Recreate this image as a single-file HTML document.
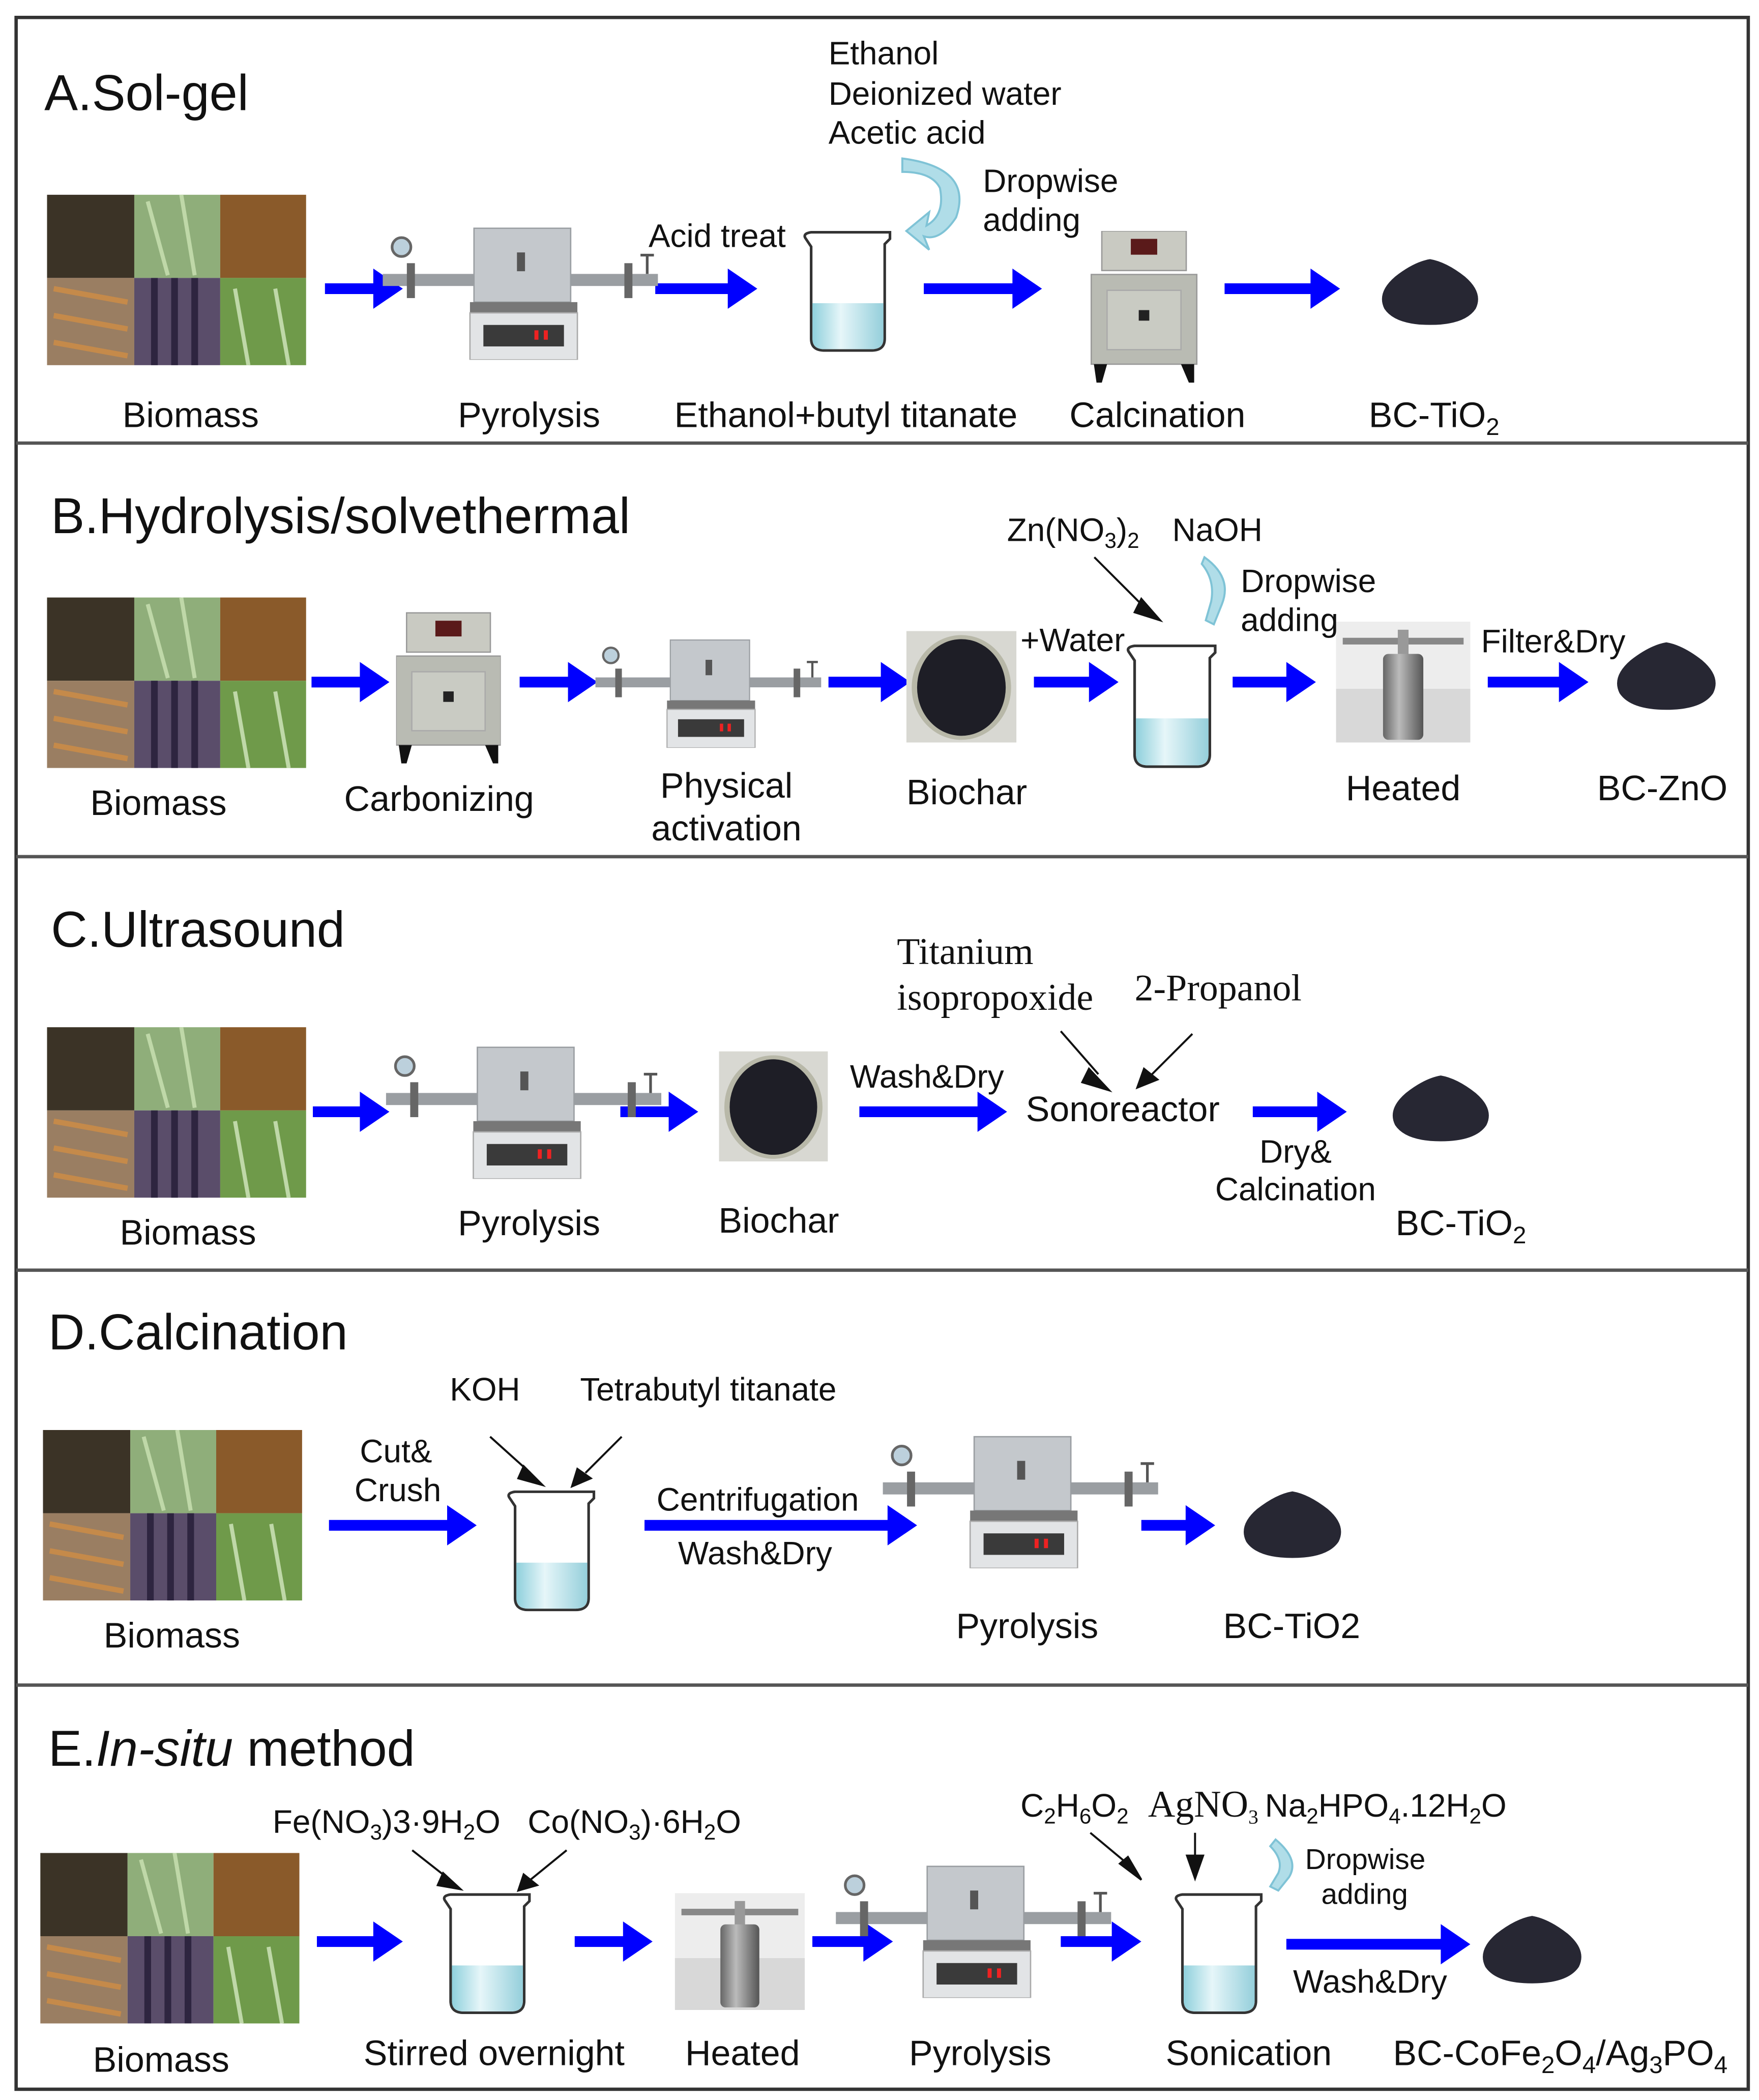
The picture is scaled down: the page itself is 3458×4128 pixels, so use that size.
<!DOCTYPE html>
<html><head><meta charset="utf-8"><style>
html,body{margin:0;padding:0;background:#fff;}
svg{display:block;}
text{font-family:"Liberation Sans",sans-serif;fill:#111;}
.t{font-size:37.5px;}
.l{font-size:26.5px;}
.s{font-size:24.2px;}
.sf{font-family:"Liberation Serif",serif;font-size:28px;}
</style></head><body>
<svg width="3458" height="4128" viewBox="0 0 1310 1564" preserveAspectRatio="none" xmlns="http://www.w3.org/2000/svg">
<defs>
<linearGradient id="liq" x1="0" x2="1"><stop offset="0" stop-color="#8fd0dc"/><stop offset="0.4" stop-color="#e6f6f9"/><stop offset="1" stop-color="#95cfdb"/></linearGradient>
<linearGradient id="met" x1="0" x2="1"><stop offset="0" stop-color="#666"/><stop offset="0.4" stop-color="#bbb"/><stop offset="1" stop-color="#555"/></linearGradient>
<symbol id="bio" viewBox="0 0 193 127">
<rect x="0" y="0" width="65" height="62" fill="#3b3326"/>
<rect x="65" y="0" width="64" height="62" fill="#8fae7a"/>
<rect x="129" y="0" width="64" height="62" fill="#8a5a2a"/>
<rect x="0" y="62" width="65" height="65" fill="#9a7e62"/>
<rect x="65" y="62" width="64" height="65" fill="#5a4d6a"/>
<rect x="129" y="62" width="64" height="65" fill="#6f9a4a"/>
<path d="M5 70 L60 80 M5 90 L60 100 M5 110 L60 120" stroke="#c58a4a" stroke-width="4"/>
<path d="M80 62 V127 M95 62 V127 M110 62 V127" stroke="#2e2540" stroke-width="5"/>
<path d="M75 5 L90 60 M100 0 L110 60 M140 70 L150 127 M170 70 L180 127" stroke="#bfd8a8" stroke-width="3"/>
</symbol>
<symbol id="furn" viewBox="0 0 205 100">
<rect x="0" y="36" width="205" height="9" fill="#9a9ea2"/>
<rect x="18" y="28" width="6" height="26" fill="#666"/>
<rect x="180" y="28" width="6" height="26" fill="#666"/>
<circle cx="14" cy="16" r="7" fill="#bcd0dc" stroke="#666" stroke-width="2"/>
<path d="M192 22 h10 M197 22 v14" stroke="#555" stroke-width="2"/>
<rect x="68" y="2" width="72" height="55" fill="#c4c8cc" stroke="#9a9ea2"/>
<rect x="100" y="20" width="6" height="14" fill="#555"/>
<rect x="65" y="57" width="80" height="8" fill="#777"/>
<rect x="65" y="65" width="80" height="35" fill="#e2e4e6" stroke="#aaa"/>
<rect x="75" y="74" width="60" height="16" fill="#3a3a3a"/>
<rect x="113" y="78" width="3" height="7" fill="#e22"/><rect x="120" y="78" width="3" height="7" fill="#e22"/>
</symbol>
<symbol id="muf" viewBox="0 0 80 115">
<rect x="8" y="0" width="64" height="30" fill="#c9cac2" stroke="#999"/>
<rect x="30" y="6" width="20" height="12" fill="#5a1a1a"/>
<rect x="0" y="33" width="80" height="68" fill="#b9bbb3" stroke="#999"/>
<rect x="12" y="45" width="56" height="45" fill="#c9cbc3" stroke="#aaa"/>
<rect x="36" y="60" width="8" height="8" fill="#222"/>
<path d="M2 101 h10 l-4 14 h-4z M68 101 h10 v14 h-4z" fill="#111"/>
</symbol>
<symbol id="bk" viewBox="0 0 75 92">
<path d="M6 6 Q3 2 10 1 H70 V6 L66 10 V82 Q66 91 56 91 H20 Q10 91 10 82 V12 Z" fill="#fff" stroke="#333" stroke-width="2"/>
<path d="M11 55 H65 V82 Q65 90 56 90 H20 Q11 90 11 82 Z" fill="url(#liq)"/>
</symbol>
<symbol id="pow" viewBox="0 0 80 50">
<path d="M40 1 Q52 3 66 14 Q80 26 74 38 Q66 50 40 50 Q14 50 6 38 Q0 26 14 14 Q28 3 40 1Z" fill="#272733"/>
</symbol>
<symbol id="bch" viewBox="0 0 82 83">
<rect width="82" height="83" fill="#d8d8d2"/>
<ellipse cx="41" cy="42" rx="37" ry="39" fill="#b8b8a8"/>
<ellipse cx="41" cy="42" rx="33" ry="36" fill="#1e1e26"/>
</symbol>
<symbol id="auto" viewBox="0 0 100 90">
<rect width="100" height="90" fill="#ededed"/>
<rect y="50" width="100" height="40" fill="#d8d8d8"/>
<rect x="5" y="12" width="90" height="5" fill="#888"/>
<rect x="46" y="6" width="8" height="20" fill="#999"/>
<rect x="35" y="24" width="30" height="64" rx="4" fill="url(#met)"/>
</symbol>
</defs>

<rect x="12" y="13" width="1290" height="1543" fill="none" stroke="#333" stroke-width="2.5"/>
<g stroke="#555" stroke-width="2.5"><line x1="12" y1="330" x2="1302" y2="330"/><line x1="12" y1="638" x2="1302" y2="638"/><line x1="12" y1="946" x2="1302" y2="946"/><line x1="12" y1="1255" x2="1302" y2="1255"/></g>

<g fill="#0000ff" stroke="none">
<rect x="242" y="211" width="40" height="8"/><polygon points="278,200 300,215 278,230"/>
<rect x="488" y="211" width="58" height="8"/><polygon points="542,200 564,215 542,230"/>
<rect x="688" y="211" width="70" height="8"/><polygon points="754,200 776,215 754,230"/>
<rect x="912" y="211" width="68" height="8"/><polygon points="976,200 998,215 976,230"/>
<rect x="232" y="504" width="40" height="8"/><polygon points="268,493 290,508 268,523"/>
<rect x="387" y="504" width="40" height="8"/><polygon points="423,493 445,508 423,523"/>
<rect x="617" y="504" width="43" height="8"/><polygon points="656,493 678,508 656,523"/>
<rect x="770" y="504" width="45" height="8"/><polygon points="811,493 833,508 811,523"/>
<rect x="918" y="504" width="44" height="8"/><polygon points="958,493 980,508 958,523"/>
<rect x="1108" y="504" width="57" height="8"/><polygon points="1161,493 1183,508 1161,523"/>
<rect x="233" y="824" width="39" height="8"/><polygon points="268,813 290,828 268,843"/>
<rect x="462" y="824" width="40" height="8"/><polygon points="498,813 520,828 498,843"/>
<rect x="640" y="824" width="92" height="8"/><polygon points="728,813 750,828 728,843"/>
<rect x="933" y="824" width="52" height="8"/><polygon points="981,813 1003,828 981,843"/>
<rect x="245" y="1132" width="92" height="8"/><polygon points="333,1121 355,1136 333,1151"/>
<rect x="480" y="1132" width="185" height="8"/><polygon points="661,1121 683,1136 661,1151"/>
<rect x="850" y="1132" width="37" height="8"/><polygon points="883,1121 905,1136 883,1151"/>
<rect x="236" y="1442" width="46" height="8"/><polygon points="278,1431 300,1446 278,1461"/>
<rect x="428" y="1442" width="40" height="8"/><polygon points="464,1431 486,1446 464,1461"/>
<rect x="605" y="1442" width="42" height="8"/><polygon points="643,1431 665,1446 643,1461"/>
<rect x="790" y="1442" width="42" height="8"/><polygon points="828,1431 850,1446 828,1461"/>
<rect x="958" y="1444" width="119" height="8"/><polygon points="1073,1433 1095,1448 1073,1463"/>
</g>

<use href="#bio" x="35" y="145" width="193" height="127"/>
<use href="#furn" x="285" y="168" width="205" height="100"/>
<use href="#bk" x="594" y="172" width="74" height="90"/>
<use href="#muf" x="812" y="172" width="80" height="113"/>
<use href="#pow" x="1025" y="192" width="80" height="50"/>

<use href="#bio" x="35" y="445" width="193" height="127"/>
<use href="#muf" x="295" y="455" width="78" height="115"/>
<use href="#furn" x="440" y="475" width="175" height="82"/>
<use href="#bch" x="675" y="470" width="82" height="83"/>
<use href="#bk" x="835" y="480" width="75" height="92"/>
<use href="#auto" x="995" y="463" width="100" height="90"/>
<use href="#pow" x="1200" y="476" width="82" height="54"/>

<use href="#bio" x="35" y="765" width="193" height="127"/>
<use href="#furn" x="285" y="778" width="210" height="100"/>
<use href="#bch" x="535" y="783" width="82" height="82"/>
<use href="#pow" x="1033" y="798" width="80" height="54"/>

<use href="#bio" x="32" y="1065" width="193" height="127"/>
<use href="#bk" x="373" y="1110" width="75" height="90"/>
<use href="#furn" x="655" y="1068" width="210" height="100"/>
<use href="#pow" x="922" y="1108" width="81" height="54"/>

<use href="#bio" x="30" y="1380" width="193" height="127"/>
<use href="#bk" x="325" y="1410" width="75" height="90"/>
<use href="#auto" x="502" y="1410" width="98" height="87"/>
<use href="#furn" x="620" y="1388" width="210" height="100"/>
<use href="#bk" x="870" y="1410" width="75" height="90"/>
<use href="#pow" x="1100" y="1423" width="82" height="57"/>

<g fill="#b0dde8" stroke="#7fc3d6" stroke-width="1.5">
<path d="M672 118 Q725 125 712 162 Q700 180 688 176 L692 186 L675 172 L692 158 L690 168 Q704 160 700 140 Q694 128 672 128Z"/>
<path d="M897 415 Q918 430 910 450 L904 465 L898 462 L902 448 Q905 432 895 420Z"/>
<path d="M950 1370 Q968 1385 960 1398 L952 1408 L946 1405 L952 1395 Q956 1385 946 1375Z"/>
</g>

<g stroke="#111" stroke-width="1.5" fill="#111">
<line x1="815" y1="415" x2="855" y2="455"/><polygon points="850,446 864,462 845,456"/>
<line x1="790" y1="768" x2="818" y2="800"/><polygon points="811,796 826,812 806,806"/>
<line x1="888" y1="770" x2="858" y2="800"/><polygon points="852,796 847,810 862,804"/>
<line x1="365" y1="1070" x2="395" y2="1097"/><polygon points="390,1092 404,1106 386,1101"/>
<line x1="463" y1="1070" x2="436" y2="1097"/><polygon points="430,1094 426,1107 440,1101"/>
<line x1="307" y1="1378" x2="335" y2="1400"/><polygon points="330,1395 343,1407 326,1404"/>
<line x1="422" y1="1378" x2="395" y2="1400"/><polygon points="390,1396 386,1408 400,1404"/>
<line x1="812" y1="1365" x2="842" y2="1390"/><polygon points="834,1388 850,1400 840,1383"/>
<line x1="890" y1="1365" x2="890" y2="1390"/><polygon points="884,1382 896,1382 890,1399"/>
</g>

<text class="t" x="33" y="82">A.Sol-gel</text>
<text class="s" x="617" y="48">Ethanol</text>
<text class="s" x="617" y="78">Deionized water</text>
<text class="s" x="617" y="107">Acetic acid</text>
<text class="s" x="732" y="143">Dropwise</text>
<text class="s" x="732" y="172">adding</text>
<text class="s" x="483" y="184">Acid treat</text>
<g text-anchor="middle">
<text class="l" x="142" y="318">Biomass</text>
<text class="l" x="394" y="318">Pyrolysis</text>
<text class="l" x="630" y="318">Ethanol+butyl titanate</text>
<text class="l" x="862" y="318">Calcination</text>
<text class="l" x="1068" y="318">BC-TiO<tspan font-size="18" dy="6">2</tspan></text>
</g>

<text class="t" x="38" y="397">B.Hydrolysis/solvethermal</text>
<text class="s" x="750" y="403">Zn(NO<tspan font-size="16" dy="5">3</tspan><tspan dy="-5">)</tspan><tspan font-size="16" dy="5">2</tspan></text>
<text class="s" x="873" y="403">NaOH</text>
<text class="s" x="924" y="441">Dropwise</text>
<text class="s" x="924" y="470">adding</text>
<text class="s" x="760" y="485">+Water</text>
<text class="s" x="1103" y="486">Filter&amp;Dry</text>
<g text-anchor="middle">
<text class="l" x="118" y="607">Biomass</text>
<text class="l" x="327" y="604">Carbonizing</text>
<text class="l" x="541" y="594">Physical</text>
<text class="l" x="541" y="626">activation</text>
<text class="l" x="720" y="599">Biochar</text>
<text class="l" x="1045" y="596">Heated</text>
<text class="l" x="1238" y="596">BC-ZnO</text>
</g>

<text class="t" x="38" y="705">C.Ultrasound</text>
<text class="sf" x="668" y="718">Titanium</text>
<text class="sf" x="668" y="752">isopropoxide</text>
<text class="sf" x="845" y="745">2-Propanol</text>
<text class="s" x="633" y="810">Wash&amp;Dry</text>
<text class="l" x="764" y="835">Sonoreactor</text>
<text class="s" x="938" y="866">Dry&amp;</text>
<text class="s" x="905" y="894">Calcination</text>
<g text-anchor="middle">
<text class="l" x="140" y="927">Biomass</text>
<text class="l" x="394" y="920">Pyrolysis</text>
<text class="l" x="580" y="918">Biochar</text>
<text class="l" x="1088" y="920">BC-TiO<tspan font-size="18" dy="6">2</tspan></text>
</g>

<text class="t" x="36" y="1005">D.Calcination</text>
<text class="s" x="335" y="1043">KOH</text>
<text class="s" x="432" y="1043">Tetrabutyl titanate</text>
<text class="s" x="268" y="1089">Cut&amp;</text>
<text class="s" x="264" y="1118">Crush</text>
<text class="s" x="489" y="1125">Centrifugation</text>
<text class="s" x="505" y="1165">Wash&amp;Dry</text>
<g text-anchor="middle">
<text class="l" x="128" y="1227">Biomass</text>
<text class="l" x="765" y="1220">Pyrolysis</text>
<text class="l" x="962" y="1220">BC-TiO2</text>
</g>

<text class="t" x="36" y="1315">E.<tspan font-style="italic">In-situ</tspan> method</text>
<text class="s" x="203" y="1365">Fe(NO<tspan font-size="16" dy="5">3</tspan><tspan dy="-5">)3·9H</tspan><tspan font-size="16" dy="5">2</tspan><tspan dy="-5">O</tspan></text>
<text class="s" x="393" y="1365">Co(NO<tspan font-size="16" dy="5">3</tspan><tspan dy="-5">)·6H</tspan><tspan font-size="16" dy="5">2</tspan><tspan dy="-5">O</tspan></text>
<text class="s" x="760" y="1353">C<tspan font-size="16" dy="5">2</tspan><tspan dy="-5">H</tspan><tspan font-size="16" dy="5">6</tspan><tspan dy="-5">O</tspan><tspan font-size="16" dy="5">2</tspan></text>
<text class="sf" x="855" y="1353" font-size="24">AgNO<tspan font-size="15" dy="5">3</tspan></text>
<text class="s" x="942" y="1353">Na<tspan font-size="16" dy="5">2</tspan><tspan dy="-5">HPO</tspan><tspan font-size="16" dy="5">4</tspan><tspan dy="-5">.12H</tspan><tspan font-size="16" dy="5">2</tspan><tspan dy="-5">O</tspan></text>
<text x="972" y="1392" font-size="21.5">Dropwise</text>
<text x="984" y="1418" font-size="21.5">adding</text>
<text class="s" x="963" y="1484">Wash&amp;Dry</text>
<g text-anchor="middle">
<text class="l" x="120" y="1543">Biomass</text>
<text class="l" x="368" y="1538">Stirred overnight</text>
<text class="l" x="553" y="1538">Heated</text>
<text class="l" x="730" y="1538">Pyrolysis</text>
<text class="l" x="930" y="1538">Sonication</text>
<text class="l" x="1162" y="1538">BC-CoFe<tspan font-size="18" dy="6">2</tspan><tspan dy="-6">O</tspan><tspan font-size="18" dy="6">4</tspan><tspan dy="-6">/Ag</tspan><tspan font-size="18" dy="6">3</tspan><tspan dy="-6">PO</tspan><tspan font-size="18" dy="6">4</tspan></text>
</g>
</svg>
</body></html>
